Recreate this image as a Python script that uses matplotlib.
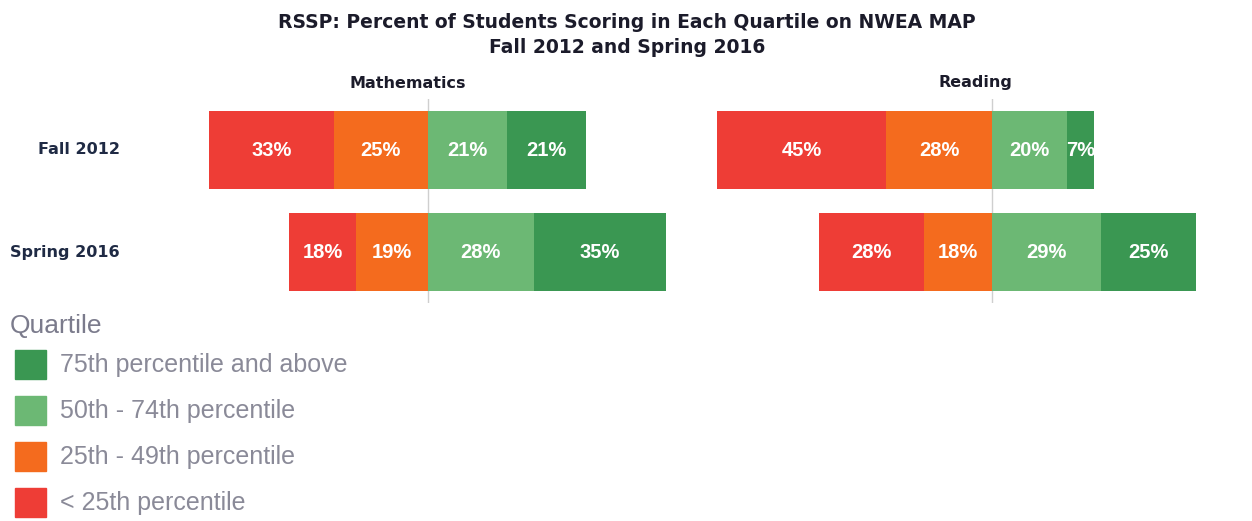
import matplotlib
matplotlib.use('Agg')
import matplotlib.pyplot as plt
import numpy as np

# datos (porcentaje por cuartil)
subjects = ['Mathematics', 'Reading']
terms = ['Fall 2012', 'Spring 2016']
below25 = [[33, 18], [45, 28]]     # < 25th percentile
q25_49 = [[25, 19], [28, 18]]      # 25th - 49th percentile
q50_74 = [[21, 28], [20, 29]]      # 50th - 74th percentile
q75_up = [[21, 35], [7, 25]]       # 75th percentile and above

legend_labels = ['75th percentile and above', '50th - 74th percentile',
                 '25th - 49th percentile', '< 25th percentile']

c_red = '#EE3D36'
c_orange = '#F46B1E'
c_light = '#6CB874'
c_dark = '#3A9752'

W, H = 1252, 521
fig = plt.figure(figsize=(W / 100, H / 100), dpi=100)
fig.patch.set_facecolor('white')

def fx(px):
    return px / W

def fy(py):
    return 1 - py / H

# titulo
fig.text(fx(627), fy(23), 'RSSP: Percent of Students Scoring in Each Quartile on NWEA MAP',
         ha='center', va='center', fontsize=13.5, fontweight='bold', color='#1b1b2a')
fig.text(fx(627), fy(47), 'Fall 2012 and Spring 2016',
         ha='center', va='center', fontsize=13.5, fontweight='bold', color='#1b1b2a')

# posiciones de los paneles (pixeles)
panels = [(194, 692, 'Mathematics', 408), (709, 1218, 'Reading', 975)]
px_per_pct = 3.77
top_px, bot_px = 99, 303
y = np.arange(len(terms))
bar_h = 0.76

for i, (left, right, name, title_x) in enumerate(panels):
    ax = fig.add_axes([fx(left), fy(bot_px), (right - left) / W, (bot_px - top_px) / H])
    center = 428 if i == 0 else 992
    ax.set_xlim((left - center) / px_per_pct, (right - center) / px_per_pct)
    ax.set_ylim(1.5, -0.5)
    ax.axvline(0, color='#cfcfcf', lw=1, zorder=0)

    b = np.array(below25[i])
    o = np.array(q25_49[i])
    lg = np.array(q50_74[i])
    dg = np.array(q75_up[i])

    bars_o = ax.barh(y, -o, height=bar_h, color=c_orange, zorder=2)
    bars_r = ax.barh(y, -b, left=-o, height=bar_h, color=c_red, zorder=2)
    bars_l = ax.barh(y, lg, height=bar_h, color=c_light, zorder=2)
    bars_d = ax.barh(y, dg, left=lg, height=bar_h, color=c_dark, zorder=2)

    for j in range(len(terms)):
        segs = [(-o[j] - b[j] / 2, b[j], bars_r[j]), (-o[j] / 2, o[j], bars_o[j]),
                (lg[j] / 2, lg[j], bars_l[j]), (lg[j] + dg[j] / 2, dg[j], bars_d[j])]
        for xc, v, patch in segs:
            t = ax.text(xc, y[j], f'{v}%', ha='center', va='center', color='white',
                        fontsize=14.5, fontweight='bold', family='Liberation Sans', zorder=3)
            # la etiqueta se corta en el borde de su barra, como en el original
            t.set_clip_path(patch)

    for s in ax.spines.values():
        s.set_visible(False)
    ax.set_xticks([])
    ax.set_yticks([])

    fig.text(fx(title_x), fy(83), name, ha='center', va='center',
             fontsize=11.5, fontweight='bold', color='#1b1b2a')

# etiquetas de filas
row_px = [150, 252]
for t, py in zip(terms, row_px):
    fig.text(fx(120), fy(py), t, ha='right', va='center', fontsize=11.5,
             fontweight='bold', color='#1f2a44')

# leyenda
fig.text(fx(10), fy(326), 'Quartile', ha='left', va='center', fontsize=19,
         color='#7b7b8c', family='Liberation Sans')
leg_colors = [c_dark, c_light, c_orange, c_red]
for k, (lab, col) in enumerate(zip(legend_labels, leg_colors)):
    cy = 365 + 46 * k
    fig.patches.append(plt.Rectangle((fx(15), fy(cy + 14)), 31 / W, 29 / H,
                                     transform=fig.transFigure, color=col, figure=fig))
    fig.text(fx(60), fy(cy), lab, ha='left', va='center', fontsize=18,
             color='#8a8a98', family='Liberation Sans')

plt.savefig('out.png', dpi=100)
